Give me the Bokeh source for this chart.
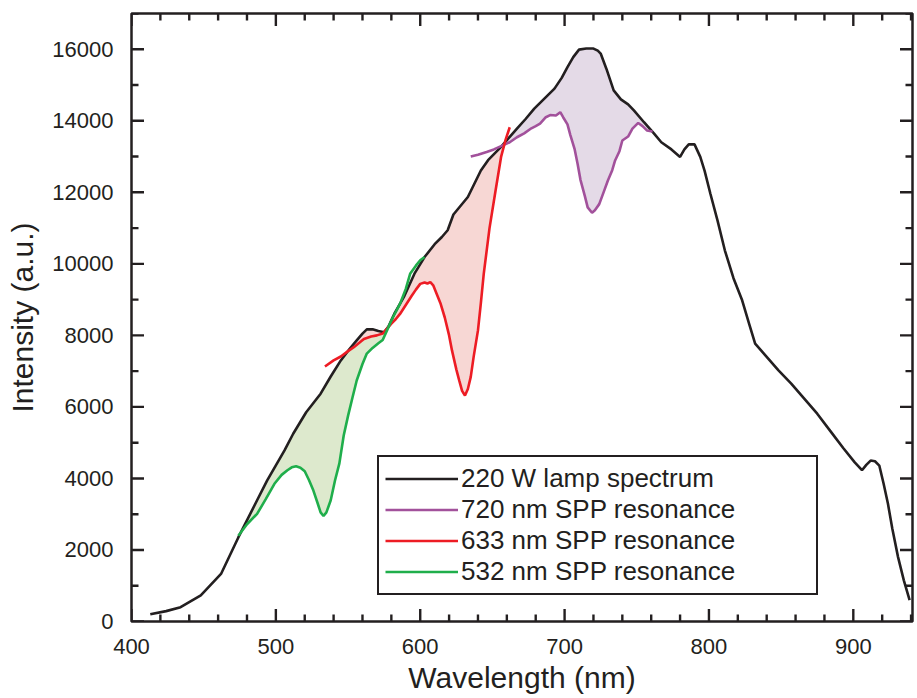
import numpy as np
from bokeh.plotting import figure
from bokeh.models import SingleIntervalTicker, Range1d, Legend, LegendItem
from bokeh.embed import file_html
from bokeh.resources import INLINE

# ---- data ----
lamp_wl = [413, 424, 434, 448, 462, 474, 487, 494, 506, 512, 521, 531, 538, 545, 551, 556, 560, 563,
           567, 571, 575, 578, 582, 589, 596, 603, 610, 615, 619, 623, 633, 642, 647, 656, 662, 667,
           673, 679, 686, 693, 698, 702, 706, 710, 715, 720, 723, 725, 729, 734, 739, 744, 748, 755,
           762, 767, 774, 780, 783, 786, 790, 794, 797, 801, 806, 811, 817, 823, 828, 832, 840, 848,
           857, 866, 875, 884, 893, 901, 906, 909, 912, 915, 918, 921, 924, 927, 931, 935, 939]
lamp_int = [200, 290, 400, 730, 1330, 2350, 3390, 3944, 4783, 5250, 5850, 6369, 6850, 7300, 7620, 7860,
            8050, 8167, 8170, 8120, 8090, 8250, 8600, 9100, 9725, 10190, 10550, 10750, 10940, 11380,
            11870, 12610, 12900, 13270, 13550, 13780, 14050, 14340, 14620, 14900, 15200, 15500, 15780,
            15990, 16020, 16020, 15960, 15880, 15450, 14850, 14600, 14460, 14290, 13960, 13640, 13400,
            13200, 12990, 13200, 13340, 13340, 12990, 12600, 11960, 11200, 10380, 9600, 8980, 8300,
            7770, 7400, 7030, 6650, 6230, 5810, 5330, 4850, 4450, 4230, 4380, 4500, 4480, 4360, 3850,
            3290, 2600, 1800, 1150, 600]

spp720_wl = [635, 640, 646, 651, 656, 662, 667, 672, 677, 680, 683, 687, 690, 694, 697, 699, 702, 704,
             707, 709, 711, 714, 716, 719, 721, 724, 727, 730, 733, 735, 738, 740, 744, 747, 751, 754,
             757, 761]
spp720_int = [13000, 13050, 13130, 13200, 13290, 13400, 13540, 13650, 13790, 13850, 13920, 14100, 14160,
              14150, 14240, 14100, 13900, 13600, 13200, 12800, 12350, 11900, 11580, 11430, 11500, 11670,
              12000, 12330, 12620, 12890, 13150, 13450, 13560, 13780, 13940, 13850, 13730, 13700]

spp633_wl = [534, 540, 545, 550, 554, 558, 561, 566, 570, 574, 577, 580, 583, 586, 590, 594, 597, 600,
             603, 605, 607, 609, 611, 614, 617, 620, 622, 625, 627, 629, 631, 633, 635, 637, 640, 642,
             644, 648, 652, 656, 659, 662]
spp633_int = [7130, 7300, 7410, 7560, 7670, 7800, 7900, 7970, 8000, 8050, 8190, 8330, 8450, 8600, 8850,
              9100, 9280, 9440, 9480, 9450, 9490, 9400, 9200, 8900, 8500, 8000, 7580, 7050, 6740, 6450,
              6320, 6500, 6840, 7400, 8140, 8900, 9720, 11000, 12000, 12990, 13450, 13820]

spp532_wl = [474, 480, 487, 493, 499, 504, 508, 511, 514, 517, 520, 523, 526, 529, 531, 533, 535, 538,
             541, 544, 547, 550, 553, 556, 560, 563, 567, 571, 574, 577, 581, 586, 590, 593, 597, 600, 603]
spp532_int = [2400, 2720, 3010, 3420, 3850, 4100, 4230, 4310, 4340, 4300, 4200, 3950, 3660, 3300, 3050,
              2950, 3050, 3390, 3950, 4420, 5200, 5750, 6250, 6740, 7200, 7490, 7650, 7780, 7870, 8140,
              8500, 8880, 9300, 9720, 9950, 10100, 10190]

labels = ["220 W lamp spectrum", "720 nm SPP resonance", "633 nm SPP resonance", "532 nm SPP resonance"]

X_MIN, X_MAX = 400.0, 941.0
Y_MIN, Y_MAX = 0.0, 17000.0
X_MAJOR, X_MINOR = 100, 20
Y_MAJOR, Y_MINOR = 2000, 1000

# ---- layout / styles ----
W, H = 917, 698
BL, BR, BT, BB = 131, 5, 13, 77
FRAME_W, FRAME_H = W - BL - BR, H - BT - BB
MAJ_LEN, MIN_LEN = 12.5, 7.0        # tick lengths in pixels
TICK_W = 2.4
FONT = "Liberation Sans"
TXT = "#231f20"
C_BLACK = "#231f20"
C_PURPLE = "#a2519b"
C_RED = "#ed1c24"
C_GREEN = "#1fae4b"
F_PURPLE = "#e4dae7"
F_RED = "#f7d7d4"
F_GREEN = "#dde9cd"

p = figure(width=W, height=H, output_backend="svg", toolbar_location=None,
           x_range=Range1d(X_MIN, X_MAX), y_range=Range1d(Y_MIN, Y_MAX),
           min_border_left=BL, min_border_right=BR, min_border_top=BT, min_border_bottom=BB,
           x_axis_label="Wavelength (nm)", y_axis_label="Intensity (a.u.)")
p.grid.visible = False
p.outline_line_color = C_BLACK
p.outline_line_width = 2.5
p.outline_line_alpha = 1.0
p.background_fill_color = "white"
p.border_fill_color = "white"

p.xaxis.ticker = SingleIntervalTicker(interval=X_MAJOR, num_minor_ticks=5)
p.yaxis.ticker = SingleIntervalTicker(interval=Y_MAJOR, num_minor_ticks=2)
for ax in (p.xaxis[0], p.yaxis[0]):
    ax.axis_line_color = None
    ax.major_tick_line_color = None
    ax.minor_tick_line_color = None
    ax.major_tick_in = 0
    ax.major_tick_out = 0
    ax.minor_tick_in = 0
    ax.minor_tick_out = 0
    ax.major_label_text_font = FONT
    ax.major_label_text_font_size = "22px"
    ax.major_label_text_color = TXT
    ax.axis_label_text_font = FONT
    ax.axis_label_text_font_size = "30px"
    ax.axis_label_text_font_style = "normal"
    ax.axis_label_text_color = TXT
p.xaxis.major_label_standoff = 17
p.xaxis.axis_label_standoff = 4
p.yaxis.major_label_standoff = 18
p.yaxis.axis_label_standoff = 10

# ---- fills between lamp spectrum and resonances ----
lw = np.array(lamp_wl, float)
li = np.array(lamp_int, float)
for wl, it, fc in [(spp532_wl, spp532_int, F_GREEN), (spp633_wl, spp633_int, F_RED),
                   (spp720_wl, spp720_int, F_PURPLE)]:
    x = np.array(wl, float)
    y = np.array(it, float)
    top_y = np.maximum(np.interp(x, lw, li), y)
    p.varea(x=x, y1=y, y2=top_y, fill_color=fc, fill_alpha=1.0)

LW = 2.6
r_black = p.line(lamp_wl, lamp_int, line_color=C_BLACK, line_width=LW)
r_purple = p.line(spp720_wl, spp720_int, line_color=C_PURPLE, line_width=LW)
r_red = p.line(spp633_wl, spp633_int, line_color=C_RED, line_width=LW)
r_green = p.line(spp532_wl, spp532_int, line_color=C_GREEN, line_width=LW)

# ---- inward ticks on all four sides: each tick its own short line (pixel lengths -> data units) ----
dx_per_px = (X_MAX - X_MIN) / FRAME_W
dy_per_px = (Y_MAX - Y_MIN) / FRAME_H
x_major = [float(v) for v in range(int(X_MIN), int(X_MAX) + 1, X_MAJOR)]
x_minor = [float(v) for v in range(int(X_MIN), int(X_MAX) + 1, X_MINOR) if v % X_MAJOR != 0]
y_major = [float(v) for v in range(int(Y_MIN), int(Y_MAX) + 1, Y_MAJOR)]
y_minor = [float(v) for v in range(int(Y_MIN), int(Y_MAX) + 1, Y_MINOR) if v % Y_MAJOR != 0]
for xs, L in [(x_major, MAJ_LEN), (x_minor, MIN_LEN)]:
    h = L * dy_per_px
    for xv in xs:
        p.line([xv, xv], [Y_MIN, Y_MIN + h], line_color=C_BLACK, line_width=TICK_W)
        p.line([xv, xv], [Y_MAX, Y_MAX - h], line_color=C_BLACK, line_width=TICK_W)
for ys, L in [(y_major, MAJ_LEN), (y_minor, MIN_LEN)]:
    w = L * dx_per_px
    for yv in ys:
        p.line([X_MIN, X_MIN + w], [yv, yv], line_color=C_BLACK, line_width=TICK_W)
        p.line([X_MAX, X_MAX - w], [yv, yv], line_color=C_BLACK, line_width=TICK_W)

legend = Legend(items=[LegendItem(label=labels[0], renderers=[r_black]),
                       LegendItem(label=labels[1], renderers=[r_purple]),
                       LegendItem(label=labels[2], renderers=[r_red]),
                       LegendItem(label=labels[3], renderers=[r_green])],
                location=(246, 26))
legend.label_text_font = FONT
legend.label_text_font_size = "26px"
legend.label_text_color = TXT
legend.label_height = 31
legend.glyph_height = 31
legend.glyph_width = 73
legend.label_standoff = 3
legend.label_width = 349
legend.padding = 6
legend.spacing = 0
legend.margin = 0
legend.border_line_color = C_BLACK
legend.border_line_width = 2.5
legend.border_line_alpha = 1.0
legend.background_fill_color = "white"
legend.background_fill_alpha = 1.0
p.add_layout(legend, "center")

open("out.html", "w").write(file_html(p, INLINE))
